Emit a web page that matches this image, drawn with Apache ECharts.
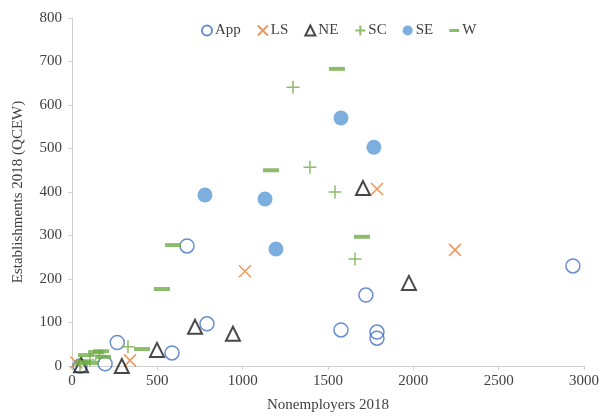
<!DOCTYPE html>
<html>
<head>
<meta charset="utf-8">
<script src="https://cdn.jsdelivr.net/npm/echarts@6/dist/echarts.min.js"></script>
<style>html,body{margin:0;padding:0;background:#fff}#c{width:606px;height:418px}</style>
</head>
<body>
<div id="c"></div>
<script>
const seriesNames = ['App', 'LS', 'NE', 'SC', 'SE', 'W'];
const xTicks = [0, 500, 1000, 1500, 2000, 2500, 3000];
const yTicks = [0, 100, 200, 300, 400, 500, 600, 700, 800];

// [Nonemployers 2018, Establishments 2018]
const appData = [[47, 0], [194, 5], [265, 54], [586, 30], [791, 97], [674, 276], [1576, 83], [1722, 163], [1787, 78], [1787, 64], [2935, 230]];
const lsData = [[25, 8], [340, 13], [1013, 218], [1787, 407], [2244, 267]];
const neData = [[53, 2], [292, 0], [498, 37], [721, 90], [943, 74], [1705, 409], [1974, 191]];
const scData = [[47, 3], [105, 14], [160, 24], [328, 44], [1295, 641], [1394, 457], [1541, 400], [1658, 246]];
const seData = [[779, 393], [1131, 384], [1195, 269], [1576, 570], [1769, 503]];
const wData = [[64, 9], [111, 7], [82, 25], [141, 32], [182, 21], [170, 34], [410, 39], [527, 177], [592, 278], [1166, 450], [1552, 683], [1699, 297]];

const serif = 'Liberation Serif';
const crossPath = 'path://M0,0L10,10M10,0L0,10';
const plusPath = 'path://M5,0L5,10M0,5L10,5';
const dashIcon = 'path://M0,0M10,10M0,3.5L10,3.5L10,6.5L0,6.5Z';

const chart = echarts.init(document.getElementById('c'));
chart.setOption({
  animation: false,
  backgroundColor: '#fff',
  grid: { left: 72, right: 22, top: 18, bottom: 52, containLabel: false },
  legend: {
    top: 18,
    left: 196,
    itemGap: 16,
    itemWidth: 10,
    itemHeight: 10,
    textStyle: { fontFamily: serif, fontSize: 15, color: '#404040', padding: [0, 0, 0, -2] },
    data: seriesNames.map(n => n === 'W' ? { name: n, icon: dashIcon } : n)
  },
  xAxis: {
    type: 'value', min: xTicks[0], max: xTicks[xTicks.length - 1], interval: 500,
    name: 'Nonemployers 2018', nameLocation: 'middle', nameGap: 32,
    nameTextStyle: { fontFamily: serif, fontSize: 15, color: '#404040' },
    axisLine: { show: true, lineStyle: { color: '#d0d0d0', width: 1 } },
    axisTick: { show: true, length: 4, lineStyle: { color: '#d0d0d0' } },
    axisLabel: { fontFamily: serif, fontSize: 15, color: '#404040', margin: 8, formatter: v => String(v) },
    splitLine: { show: false }
  },
  yAxis: {
    type: 'value', min: yTicks[0], max: yTicks[yTicks.length - 1], interval: 100,
    name: 'Establishments 2018 (QCEW)', nameLocation: 'middle', nameGap: 46,
    nameTextStyle: { fontFamily: serif, fontSize: 15, color: '#404040' },
    axisLine: { show: true, lineStyle: { color: '#d0d0d0', width: 1 } },
    axisTick: { show: true, length: 4, lineStyle: { color: '#d0d0d0' } },
    axisLabel: { fontFamily: serif, fontSize: 15, color: '#404040', margin: 10, formatter: v => String(v) },
    splitLine: { show: false }
  },
  series: [
    { name: 'App', type: 'scatter', data: appData, symbol: 'circle', symbolSize: 14,
      itemStyle: { color: 'rgba(255,255,255,0)', borderColor: '#4472C4', borderWidth: 1.5 } },
    { name: 'LS', type: 'scatter', data: lsData, symbol: crossPath, symbolSize: 12,
      itemStyle: { color: 'rgba(255,255,255,0)', borderColor: '#ED7D31', borderWidth: 1.5 } },
    { name: 'NE', type: 'scatter', data: neData, symbol: 'triangle', symbolSize: 14,
      itemStyle: { color: 'rgba(255,255,255,0)', borderColor: '#1a1a1a', borderWidth: 2 } },
    { name: 'SC', type: 'scatter', data: scData, symbol: plusPath, symbolSize: 13,
      itemStyle: { color: 'rgba(255,255,255,0)', borderColor: '#70AD47', borderWidth: 1.5 } },
    { name: 'SE', type: 'scatter', data: seData, symbol: 'circle', symbolSize: 15,
      itemStyle: { color: '#5B9BD5', borderColor: '#5B9BD5', borderWidth: 0 } },
    { name: 'W', type: 'scatter', data: wData, symbol: 'rect', symbolSize: [16, 4],
      itemStyle: { color: '#70AD47' } }
  ]
});
</script>
</body>
</html>
